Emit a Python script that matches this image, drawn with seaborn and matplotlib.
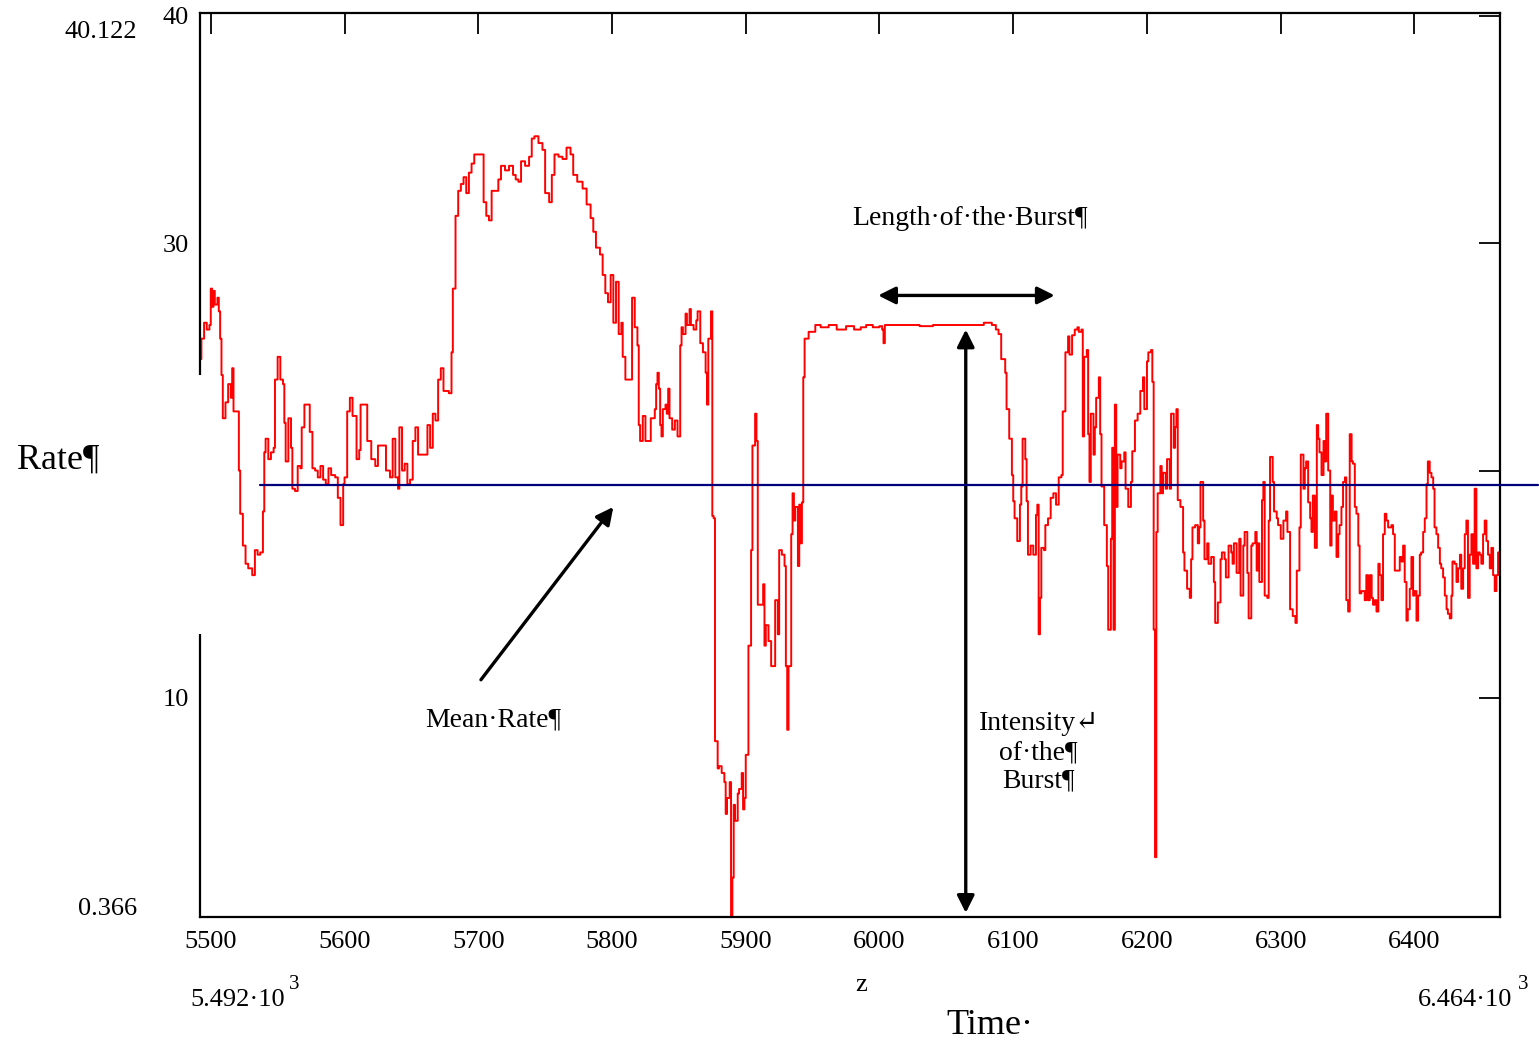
import matplotlib
matplotlib.use("Agg")
import numpy as np
import pandas as pd
import seaborn as sns
import matplotlib.pyplot as plt

# Dados (tempo, taxa)
t_before = [5492, 5493, 5495, 5497, 5499, 5500, 5501, 5502, 5503, 5505, 5506, 5507, 5508, 5509, 5511, 5513, 5515, 5516, 5517, 5520,
            5521, 5522, 5524, 5526, 5528, 5531, 5533, 5535, 5537, 5539, 5540, 5541, 5543, 5545, 5547, 5548, 5550, 5552, 5554, 5555,
            5556, 5558, 5560, 5561, 5563, 5565, 5567, 5568, 5570, 5573, 5574, 5576, 5578, 5580, 5582, 5584, 5586, 5588, 5590, 5593,
            5595, 5597, 5599, 5600, 5602, 5604, 5606, 5609, 5611, 5612, 5615, 5617, 5620, 5623, 5625, 5628, 5631, 5634, 5636, 5638,
            5640, 5641, 5643, 5645, 5647, 5649, 5651, 5653, 5655,
            5660, 5662, 5664, 5666, 5668, 5670, 5672, 5674, 5678, 5680, 5681, 5683, 5685, 5687, 5689, 5691, 5693, 5695, 5697, 5702,
            5704, 5706, 5708, 5710, 5713, 5715, 5717, 5720, 5723, 5726, 5728, 5730, 5732, 5735, 5738, 5740, 5742, 5745, 5748, 5750,
            5753, 5755, 5757, 5760, 5763, 5766, 5769, 5771, 5774, 5778, 5781, 5784, 5786, 5788, 5791, 5793, 5795, 5797, 5799, 5801,
            5803, 5805, 5807, 5808, 5810, 5814, 5815, 5817, 5819,
            5820, 5821, 5823, 5825, 5827, 5829, 5831, 5832, 5833, 5834, 5835, 5836, 5837, 5838, 5840, 5841, 5842, 5843, 5845, 5847,
            5849, 5850, 5851, 5852, 5853, 5855, 5856, 5858, 5859, 5861, 5863, 5864, 5866, 5868, 5870, 5871, 5872, 5874, 5875, 5876,
            5877, 5879, 5880, 5882, 5884, 5885, 5886, 5888, 5889, 5890, 5891, 5892, 5894, 5895, 5897, 5898, 5899, 5900, 5902, 5904,
            5905, 5907, 5908, 5909, 5911, 5913, 5914, 5915, 5917, 5919, 5920, 5922, 5924, 5925, 5927, 5929, 5930, 5931, 5932, 5934,
            5935, 5936, 5937, 5939, 5940, 5941, 5942, 5943, 5944, 5947, 5952]
r_before = [24.9, 25.8, 26.5, 26.2, 26.4, 28.0, 27.2, 27.9, 27.3, 27.6, 27.0, 25.8, 24.2, 22.3, 23.0, 23.8, 23.2, 24.5, 22.6, 22.6,
            20.0, 18.1, 16.7, 15.9, 15.7, 15.4, 16.5, 16.3, 16.4, 18.2, 20.8, 21.4, 20.5, 20.8, 21.0, 24.0, 25.0, 24.0, 23.8, 22.1,
            20.4, 22.3, 21.0, 19.2, 19.1, 20.2, 20.1, 21.9, 22.9, 22.9, 21.7, 20.1, 20.0, 19.7, 20.2, 19.6, 19.4, 20.1, 19.8, 19.7,
            18.8, 17.6, 19.4, 19.7, 22.6, 23.2, 22.4, 20.5, 20.9, 22.9, 22.9, 21.3, 20.5, 20.2, 21.1, 21.1, 20.0, 19.7, 21.4, 19.7,
            19.2, 21.9, 20.0, 20.3, 19.4, 19.6, 21.3, 21.9, 20.7,
            20.7, 22.0, 21.0, 22.5, 22.2, 24.0, 24.5, 23.5, 23.4, 25.2, 28.0, 31.2, 32.3, 32.6, 32.9, 32.2, 33.1, 33.5, 33.9, 33.9,
            31.8, 31.2, 31.0, 32.3, 32.3, 32.8, 33.4, 33.2, 33.4, 33.0, 32.8, 32.7, 33.6, 33.4, 33.8, 34.6, 34.7, 34.4, 34.1, 32.2,
            31.8, 33.0, 33.9, 33.8, 33.7, 34.2, 33.9, 33.0, 32.7, 32.4, 31.7, 31.1, 30.5, 29.8, 29.5, 28.6, 27.8, 27.4, 28.6, 26.5,
            28.3, 26.0, 26.5, 25.0, 24.0, 24.0, 27.6, 26.3, 25.5,
            22.0, 21.3, 22.4, 21.3, 21.3, 22.3, 22.3, 22.7, 23.8, 24.3, 23.6, 22.0, 21.5, 22.7, 22.9, 22.5, 23.6, 22.3, 21.8, 22.2,
            21.5, 21.5, 25.5, 26.3, 26.0, 26.9, 26.4, 27.1, 26.4, 26.2, 26.6, 27.0, 25.6, 25.2, 24.3, 22.9, 25.8, 27.0, 18.0, 17.9,
            8.1, 6.9, 7.0, 6.7, 6.3, 4.9, 5.6, 6.3, 0.3, 2.1, 5.3, 4.6, 5.8, 6.0, 6.7, 5.1, 5.6, 7.5, 12.3, 16.5,
            21.1, 22.5, 21.3, 14.1, 14.1, 15.0, 12.3, 13.2, 12.5, 11.4, 11.4, 14.3, 12.8, 16.5, 16.3, 15.8, 11.4, 8.6, 11.4, 17.2,
            19.0, 17.8, 18.4, 15.8, 18.5, 16.8, 18.6, 24.1, 25.8, 26.1, 26.4]

t_burst = [5956, 5962, 5968, 5975, 5981, 5986, 5990, 5995, 6000, 6002, 6003, 6004, 6010, 6020, 6030, 6040, 6050, 6060, 6070, 6078,
           6084, 6087, 6089]
r_burst = [26.3, 26.4, 26.2, 26.35, 26.2, 26.3, 26.4, 26.3, 26.35, 26.2, 25.6, 26.4, 26.4, 26.4, 26.35, 26.4, 26.4, 26.4, 26.4, 26.5,
           26.4, 26.2, 26.0]

t_after = [6091, 6094, 6095, 6097, 6099, 6100, 6101, 6103, 6105, 6106, 6107, 6109, 6110, 6111, 6113, 6115, 6117, 6118, 6119, 6120,
           6121, 6123, 6124, 6126, 6128, 6130, 6132, 6134, 6136, 6137, 6139, 6141, 6142, 6144, 6146, 6148,
           6149, 6151, 6152, 6153, 6155, 6156, 6157, 6158, 6160, 6161, 6162, 6164, 6165, 6166, 6168, 6170, 6171, 6173, 6174, 6175,
           6176, 6177, 6178, 6180, 6181, 6183, 6184, 6186, 6188, 6189, 6191, 6193, 6195, 6197, 6198, 6200, 6201, 6203, 6204, 6205,
           6206, 6207, 6208, 6210, 6211, 6212, 6214, 6215, 6217, 6218, 6220, 6221, 6222, 6223, 6225, 6227, 6228, 6230, 6232, 6233,
           6234, 6236, 6238, 6239, 6240, 6242, 6243, 6245, 6246, 6248, 6250, 6251, 6253, 6255, 6256, 6258, 6259, 6261, 6263, 6264,
           6265, 6267, 6269, 6270, 6272, 6273, 6275, 6276, 6278, 6279, 6281, 6282, 6283, 6284, 6286, 6287, 6288, 6290, 6291, 6292,
           6294, 6295, 6297, 6298, 6300, 6302, 6304, 6305, 6307, 6309, 6311, 6312,
           6314, 6315, 6317, 6318, 6319, 6320.5, 6322, 6323, 6324, 6325.5, 6327, 6328, 6329, 6330.5, 6332, 6333, 6334, 6335.5, 6337, 6338,
           6339, 6340.5, 6341.7, 6343, 6344, 6345.4, 6346.6, 6348, 6349, 6350.4, 6351.6, 6353, 6354, 6355.4, 6356.6, 6358, 6359, 6360.3, 6362.8, 6364,
           6365.3, 6366.6, 6368, 6369, 6370.3, 6371.6, 6373, 6374, 6375.3, 6376.5, 6377.8, 6379, 6380.3, 6382.8, 6384, 6385.3, 6387.8, 6389, 6390.3, 6391.5,
           6392.7, 6394, 6395, 6396.5, 6397.7, 6399, 6400, 6401.5, 6402.7, 6404, 6405, 6406.5, 6407.7, 6409, 6410, 6411.4, 6412.7, 6414, 6415, 6416.4,
           6417.7, 6419, 6420, 6421.4, 6422.7, 6424, 6425, 6426.4, 6427.6, 6428.4, 6430, 6431.4, 6432.6, 6434, 6435, 6436.4, 6437.6, 6438.8, 6440, 6441.3,
           6442.6, 6443.8, 6445, 6446.3, 6447.6, 6448.8, 6450, 6451.3, 6452.5, 6453.8, 6455, 6456.3, 6457.5, 6458.8, 6460, 6461.3, 6462.5, 6464]
r_after = [24.9, 24.3, 22.7, 21.4, 19.8, 18.65, 17.9, 16.9, 18.5, 19.3, 21.4, 20.5, 18.65, 16.3, 16.7, 16.3, 18.05, 18.5, 12.8, 14.4,
           16.6, 16.5, 17.6, 17.9, 18.8, 19.0, 18.5, 19.7, 19.8, 22.6, 25.2, 25.9, 25.1, 25.95, 26.2, 26.3,
           26.1, 26.2, 21.5, 25.0, 25.3, 21.6, 19.5, 22.5, 20.7, 21.9, 23.2, 24.1, 21.6, 19.3, 17.6, 15.8, 13.0, 17.0, 21.0, 13.0,
           22.9, 18.4, 20.7, 20.1, 20.4, 20.8, 19.2, 18.4, 19.5, 20.85, 22.2, 22.5, 23.5, 24.1, 22.7, 24.8, 25.2, 25.3, 23.9, 13.0,
           3.0, 17.3, 19.0, 20.2, 19.0, 19.9, 19.2, 20.5, 19.2, 22.5, 21.0, 21.9, 22.7, 18.7, 18.4, 16.4, 15.6, 14.8, 14.4, 16.1,
           17.5, 17.6, 16.8, 17.5, 19.5, 17.8, 16.1, 16.8, 15.9, 16.2, 15.1, 13.3, 14.2, 16.1, 16.4, 16.1, 15.3, 16.7, 16.4, 15.9,
           16.8, 15.5, 17.0, 14.5, 16.7, 17.3, 15.5, 13.5, 16.7, 16.8, 17.3, 15.6, 16.8, 15.1, 18.7, 19.5, 14.5, 14.4, 17.8, 20.6,
           19.5, 18.2, 17.9, 17.6, 17.0, 17.8, 18.2, 17.3, 13.9, 13.6, 13.3, 15.6,
           17.5, 20.7, 19.2, 20.1, 20.4, 18.6, 17.9, 17.3, 18.9, 16.6, 22.0, 21.4, 20.8, 19.8, 21.3, 20.4, 22.5, 20.0, 16.7, 18.9,
           17.8, 18.2, 16.2, 17.2, 17.6, 18.4, 19.5, 19.7, 14.3, 13.8, 21.6, 20.4, 20.3, 18.4, 18.1, 16.7, 14.6, 14.7, 14.3, 15.4,
           14.3, 15.4, 14.4, 14.1, 14.3, 13.8, 15.9, 15.4, 14.3, 17.2, 18.1, 17.8, 17.5, 17.6, 17.2, 15.6, 15.6, 16.2, 16.0, 16.7,
           15.1, 13.4, 13.9, 14.8, 16.2, 14.5, 14.7, 13.4, 14.5, 16.3, 16.4, 17.3, 17.9, 19.4, 20.4, 19.9, 19.7, 19.2, 17.5, 17.2,
           16.6, 15.9, 15.7, 15.3, 14.5, 13.9, 13.7, 13.5, 14.5, 16.0, 15.9, 15.1, 15.7, 16.3, 14.8, 15.7, 17.2, 17.8, 14.4, 16.3,
           17.2, 15.9, 19.2, 15.7, 16.4, 16.3, 15.9, 17.2, 17.8, 16.9, 16.3, 15.7, 16.6, 15.4, 14.7, 15.4, 16.4, 16.0]

# Taxa média
mean_rate = 19.35
mean_span = [5537, 6492]

# Eixos
x_ticks = [5500, 5600, 5700, 5800, 5900, 6000, 6100, 6200, 6300, 6400]
y_ticks = [10, 20, 30, 40]
y_tick_labels = ["10", "", "30", "40"]
x_range = [5492, 6464]
y_range = [0.366, 40.122]

df = pd.DataFrame({"time": t_before + t_burst + t_after,
                   "rate": r_before + r_burst + r_after})

sns.set_style("white")
plt.rcParams["font.family"] = ["Liberation Serif", "DejaVu Serif", "DejaVu Sans"]
plt.rcParams["text.color"] = "black"
plt.rcParams["xtick.color"] = "black"
plt.rcParams["ytick.color"] = "black"

fig = plt.figure(figsize=(15.39, 10.44), dpi=100)
ax = fig.add_axes([0.1300, 0.1216, 0.8447, 0.8660])

sns.lineplot(data=df, x="time", y="rate", estimator=None, sort=False,
             color="#ff0000", linewidth=1.4, drawstyle="steps-post", ax=ax)
ax.plot(mean_span, [mean_rate, mean_rate], color="#00007f", linewidth=1.6,
        clip_on=False, zorder=4)

ax.set_xlim(x_range)
ax.set_ylim(y_range)
ax.set_xticks(x_ticks)
ax.set_xticklabels([str(v) for v in x_ticks])
ax.set_yticks(y_ticks)
ax.set_yticklabels(y_tick_labels)
ax.set_xlabel("")
ax.set_ylabel("")
ax.tick_params(axis="both", direction="in", length=15, width=1.3,
               top=True, right=True, labelsize=19, color="black",
               labelcolor="black")
ax.tick_params(axis="x", pad=10)
ax.tick_params(axis="y", pad=8)
for s in ax.spines.values():
    s.set_color("black")
    s.set_linewidth(1.6)

# Falha no eixo esquerdo atrás do rótulo "Rate"
ax.plot([x_range[0], x_range[0]], [12.8, 24.2], color="white", linewidth=4,
        clip_on=False, zorder=5, solid_capstyle="butt")

# Setas
arrow = dict(arrowstyle="<|-|>", color="black", lw=2.4, mutation_scale=26,
             shrinkA=0, shrinkB=0)
ax.annotate("", xy=(5999, 27.7), xytext=(6131, 27.7), arrowprops=arrow)
ax.annotate("", xy=(6064.5, 26.2), xytext=(6064.5, 0.55), arrowprops=arrow)
ax.annotate("", xy=(5801, 18.4), xytext=(5702, 10.8),
            arrowprops=dict(arrowstyle="-|>", color="black", lw=2.4,
                            mutation_scale=26, shrinkA=0, shrinkB=0))

ax.text(6068, 31.1, "Length·of·the·Burst¶", fontsize=20, ha="center", va="center")
ax.text(5711, 9.05, "Mean·Rate¶", fontsize=20, ha="center", va="center")
ax.text(6119, 7.6, "Intensity↵\nof·the¶\nBurst¶", fontsize=20, ha="center",
        va="center", multialignment="center", linespacing=1.2)

# Textos fora do gráfico
fig.text(0.011, 0.559, "Rate¶", fontsize=26, ha="left", va="center")
fig.text(0.089, 0.969, "40.122", fontsize=19, ha="right", va="center")
fig.text(0.089, 0.129, "0.366", fontsize=19, ha="right", va="center")
fig.text(0.1235, 0.042, "5.492·10", fontsize=19, ha="left", va="center")
fig.text(0.188, 0.057, "3", fontsize=15, ha="left", va="center")
fig.text(0.9215, 0.042, "6.464·10", fontsize=19, ha="left", va="center")
fig.text(0.986, 0.057, "3", fontsize=15, ha="left", va="center")
fig.text(0.5595, 0.0565, "z", fontsize=19, ha="center", va="center")
fig.text(0.643, 0.018, "Time·", fontsize=26, ha="center", va="center")

fig.savefig("out.png", dpi=100, facecolor="white")
